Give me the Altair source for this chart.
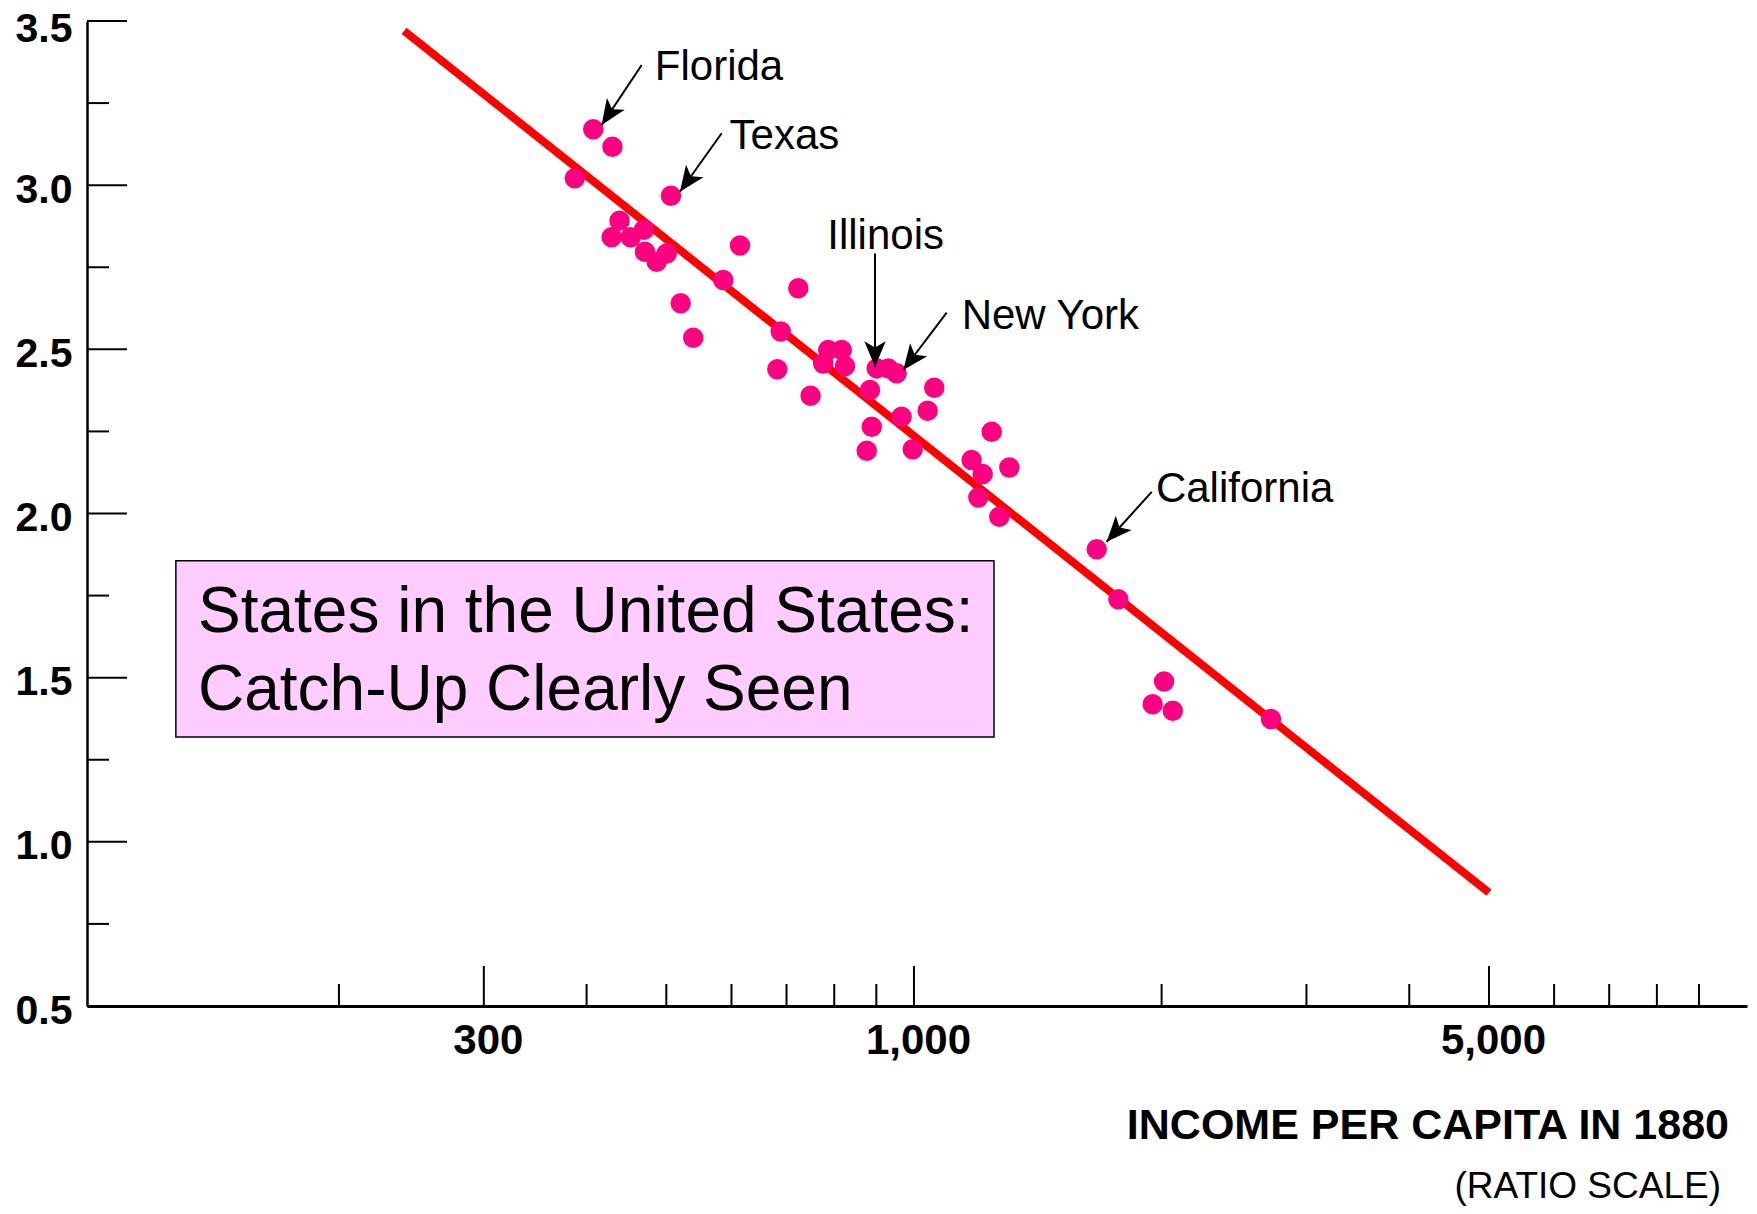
import altair as alt
import pandas as pd

# ---------------- data ----------------
income_1880 = [387, 407.5, 430, 506.5, 438.6, 429, 452.4, 469.7, 471, 486.7,
               500.5, 614.5, 586.4, 520.5, 539.1, 723.4, 688.7, 682.1, 786.6, 817,
               775.6, 824.5, 901, 930.6, 952.7, 884.2, 748.7, 1058.5, 1039, 966,
               888.6, 876.1, 996.4, 1243, 1175, 1212, 1306, 1197.4, 1269.7, 1667.8,
               1772, 2013.6, 1950.6, 2063.4, 2716]
growth = [3.021, 3.170, 3.117, 2.968, 2.892, 2.841, 2.841, 2.864, 2.797, 2.767,
          2.792, 2.816, 2.711, 2.640, 2.535, 2.686, 2.554, 2.439, 2.498, 2.498,
          2.457, 2.449, 2.442, 2.442, 2.427, 2.376, 2.359, 2.383, 2.313, 2.295,
          2.264, 2.191, 2.196, 2.249, 2.163, 2.120, 2.140, 2.049, 1.990, 1.891,
          1.739, 1.488, 1.419, 1.399, 1.374]

fit_x = [240, 5000]
fit_y = [3.47, 0.845]

state_names = ["Florida", "Texas", "Illinois", "New York", "California"]
label_x = [484.2, 596.8, 784.5, 1142.8, 1968.5]
label_y = [3.320, 3.110, 2.8055, 2.561, 2.036]
arrow_tail_x = [466.7, 583.8, 896.7, 1095.9, 1945.5]
arrow_tail_y = [3.366, 3.158, 2.792, 2.6115, 2.066]
arrow_tip_x = [417.2, 519.4, 896.7, 970.5, 1715]
arrow_tip_y = [3.183, 2.980, 2.447, 2.437, 1.914]
arrow_angle = [213.7, 215.5, 180, 217.1, 222]

box_lines = ["States in the United States:", "Catch-Up Clearly Seen"]
box_text_x = [134.8, 134.8]
box_text_y = [1.639, 1.401]
box_left, box_right, box_top, box_bottom = 126.7, 1251, 1.856, 1.319

x_tick_labels = [300, 1000, 5000]
x_minor = [200, 400, 500, 600, 700, 800, 900, 2000, 3000, 4000,
           6000, 7000, 8000, 9000]
y_tick_labels = [0.5, 1.0, 1.5, 2.0, 2.5, 3.0, 3.5]
y_minor = [0.75, 1.25, 1.75, 2.25, 2.75, 3.25]

x_title = "INCOME PER CAPITA IN 1880"
x_subtitle = "(RATIO SCALE)"

# ---------------- style ----------------
FONT = "Liberation Sans, Arial, Helvetica, sans-serif"
W, H = 1660, 985
PINK = "#FF0080"
RED = "#FF0000"

xscale = alt.Scale(type="log", domain=[98.8, 10295], nice=False)
yscale = alt.Scale(domain=[0.5, 3.5], nice=False, zero=False)

xaxis = alt.Axis(values=x_tick_labels, format=",d", ticks=False, tickSize=0,
                 labelFont=FONT, labelFontSize=42, labelFontWeight="bold",
                 labelColor="black", labelPadding=14, labelOffset=4, labelFlush=False,
                 domainColor="black", domainWidth=3, grid=False, title=None)
yaxis = alt.Axis(values=y_tick_labels, format=".1f", ticks=False, tickSize=0,
                 labelFont=FONT, labelFontSize=41, labelFontWeight="bold",
                 labelColor="black", labelPadding=15, labelBaseline="middle",
                 labelOffset=alt.condition("datum.value == 3.5", alt.value(8), alt.value(5)),
                 domainColor="black", domainWidth=2.5, grid=False, title=None)


def X(f):
    return alt.X(f, type="quantitative", scale=xscale, axis=xaxis)


def Y(f):
    return alt.Y(f, type="quantitative", scale=yscale, axis=yaxis)


pts = pd.DataFrame({"inc": income_1880, "g": growth})
fit = pd.DataFrame({"inc": fit_x, "g": fit_y})
ann = pd.DataFrame({"name": state_names, "lx": label_x, "ly": label_y,
                    "tx": arrow_tail_x, "ty": arrow_tail_y,
                    "hx": arrow_tip_x, "hy": arrow_tip_y, "ang": arrow_angle})
box = pd.DataFrame({"x1": [box_left], "x2": [box_right],
                    "y1": [box_top], "y2": [box_bottom]})
boxtxt = pd.DataFrame({"t": box_lines, "x": box_text_x, "y": box_text_y})
xmaj = pd.DataFrame({"v": x_tick_labels})
xmin = pd.DataFrame({"v": x_minor})
ymaj = pd.DataFrame({"v": y_tick_labels})
ymin = pd.DataFrame({"v": y_minor})

box_layer = alt.Chart(box).mark_rect(fill="#FFCCFF", stroke="black", strokeWidth=1.5).encode(
    x=X("x1"), x2="x2", y=Y("y1"), y2="y2")

line_layer = alt.Chart(fit).mark_line(color=RED, strokeWidth=8, strokeCap="butt").encode(
    x=X("inc"), y=Y("g"))

pt_layer = alt.Chart(pts).mark_circle(size=420, color=PINK, opacity=1).encode(
    x=X("inc"), y=Y("g"))

shaft = alt.Chart(ann).mark_rule(color="black", strokeWidth=2).encode(
    x=X("tx"), y=Y("ty"), x2="hx", y2="hy")

head = alt.Chart(ann).mark_point(
    shape="M0,0 L-0.42,1 L0,0.75 L0.42,1 Z", filled=True, color="black",
    opacity=1, size=2600, strokeWidth=0).encode(
    x=X("hx"), y=Y("hy"), angle=alt.Angle("ang:Q", scale=None))

names = alt.Chart(ann).mark_text(font=FONT, fontSize=42, align="left",
                                 baseline="alphabetic", color="black").encode(
    x=X("lx"), y=Y("ly"), text="name:N")

boxtext = alt.Chart(boxtxt).mark_text(font=FONT, fontSize=64, align="left",
                                      baseline="alphabetic", color="black").encode(
    x=X("x"), y=Y("y"), text="t:N")

xmaj_layer = alt.Chart(xmaj).mark_rule(color="black", strokeWidth=2).encode(
    x=X("v"), y=alt.value(H), y2=alt.value(H - 40))
xmin_layer = alt.Chart(xmin).mark_rule(color="black", strokeWidth=2).encode(
    x=X("v"), y=alt.value(H), y2=alt.value(H - 22))
ymaj_layer = alt.Chart(ymaj).mark_rule(color="black", strokeWidth=2).encode(
    y=Y("v"), x=alt.value(0), x2=alt.value(40))
ymin_layer = alt.Chart(ymin).mark_rule(color="black", strokeWidth=2).encode(
    y=Y("v"), x=alt.value(0), x2=alt.value(22))

title_layer = alt.Chart(pd.DataFrame({"t": [x_title]})).mark_text(
    font=FONT, fontSize=43, fontWeight="bold", align="right",
    baseline="alphabetic", color="black").encode(
    x=alt.value(1642), y=alt.value(1118), text="t:N")
subtitle_layer = alt.Chart(pd.DataFrame({"t": [x_subtitle]})).mark_text(
    font=FONT, fontSize=37, align="right", baseline="alphabetic", color="black").encode(
    x=alt.value(1634), y=alt.value(1177), text="t:N")

chart = alt.layer(
    box_layer, line_layer, pt_layer, shaft, head, names, boxtext,
    xmaj_layer, xmin_layer, ymaj_layer, ymin_layer, title_layer, subtitle_layer
).properties(
    width=W, height=H,
    autosize=alt.AutoSizeParams(type="none"),
    padding={"left": 79, "top": 13, "right": 2, "bottom": 200},
).configure_view(stroke=None)

chart.save("out.html", embed_options={"renderer": "svg", "actions": False})
